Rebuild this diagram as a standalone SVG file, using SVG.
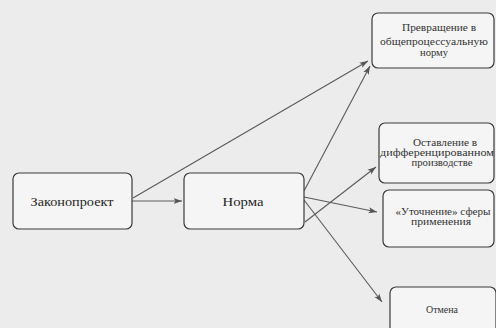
<svg xmlns="http://www.w3.org/2000/svg" width="496" height="328" viewBox="0 0 496 328">
  <defs>
    <marker id="arr" markerWidth="9" markerHeight="7" refX="8.5" refY="3.5" orient="auto" markerUnits="userSpaceOnUse">
      <path d="M0,0.5 L8.5,3.5 L0,6.5 L2,3.5 z" fill="#555"/>
    </marker>
    <style>
      .box { fill: #f5f5f5; stroke: #3a3a3a; stroke-width: 1.2; }
      .main { font-family: "Liberation Serif", "DejaVu Serif", serif; font-size: 12.5px; fill: #262626; text-anchor: middle; }
      .small { font-family: "Liberation Serif", "DejaVu Serif", serif; font-size: 9.5px; fill: #333; text-anchor: middle; }
      .conn { stroke: #5a5a5a; stroke-width: 1.1; fill: none; marker-end: url(#arr); }
    </style>
  </defs>
  <rect x="0" y="0" width="496" height="328" fill="#ececec"/>

  <g id="connectors">
    <line class="conn" x1="132" y1="201" x2="182" y2="201"/>
    <line class="conn" x1="133" y1="198" x2="368" y2="61"/>
    <line class="conn" x1="304" y1="191" x2="370" y2="66"/>
    <line class="conn" x1="305" y1="222" x2="376" y2="167"/>
    <line class="conn" x1="304" y1="197" x2="377" y2="212"/>
    <line class="conn" x1="304" y1="200" x2="382" y2="302"/>
  </g>

  <g id="zakonoproekt">
    <rect class="box" x="13" y="173" width="119" height="56" rx="6"/>
    <text class="main" x="72" y="206" textLength="83" lengthAdjust="spacingAndGlyphs">Законопроект</text>
  </g>

  <g id="norma">
    <rect class="box" x="184" y="173" width="120" height="56" rx="6"/>
    <text class="main" x="243" y="206" textLength="41" lengthAdjust="spacingAndGlyphs">Норма</text>
  </g>

  <g id="prevrashchenie">
    <rect class="box" x="372" y="13" width="122" height="55" rx="6"/>
    <text class="small" x="439" y="31" textLength="74" lengthAdjust="spacingAndGlyphs">Превращение в</text>
    <text class="small" x="434" y="45" textLength="108" lengthAdjust="spacingAndGlyphs">общепроцессуальную</text>
    <text class="small" x="434" y="56" textLength="28" lengthAdjust="spacingAndGlyphs">норму</text>
  </g>

  <g id="ostavlenie">
    <rect class="box" x="379" y="123" width="115" height="60" rx="6"/>
    <text class="small" x="445" y="146" textLength="64" lengthAdjust="spacingAndGlyphs">Оставление в</text>
    <text class="small" x="437" y="156" textLength="114" lengthAdjust="spacingAndGlyphs">дифференцированном</text>
    <text class="small" x="442" y="166" textLength="61" lengthAdjust="spacingAndGlyphs">производстве</text>
  </g>

  <g id="utochnenie">
    <rect class="box" x="383" y="190" width="111" height="57" rx="6"/>
    <text class="small" x="443" y="215" textLength="95" lengthAdjust="spacingAndGlyphs">«Уточнение» сферы</text>
    <text class="small" x="441" y="225" textLength="60" lengthAdjust="spacingAndGlyphs">применения</text>
  </g>

  <g id="otmena">
    <rect class="box" x="390" y="287" width="106" height="50" rx="6"/>
    <text class="small" x="442" y="313" textLength="32" lengthAdjust="spacingAndGlyphs">Отмена</text>
  </g>
</svg>
